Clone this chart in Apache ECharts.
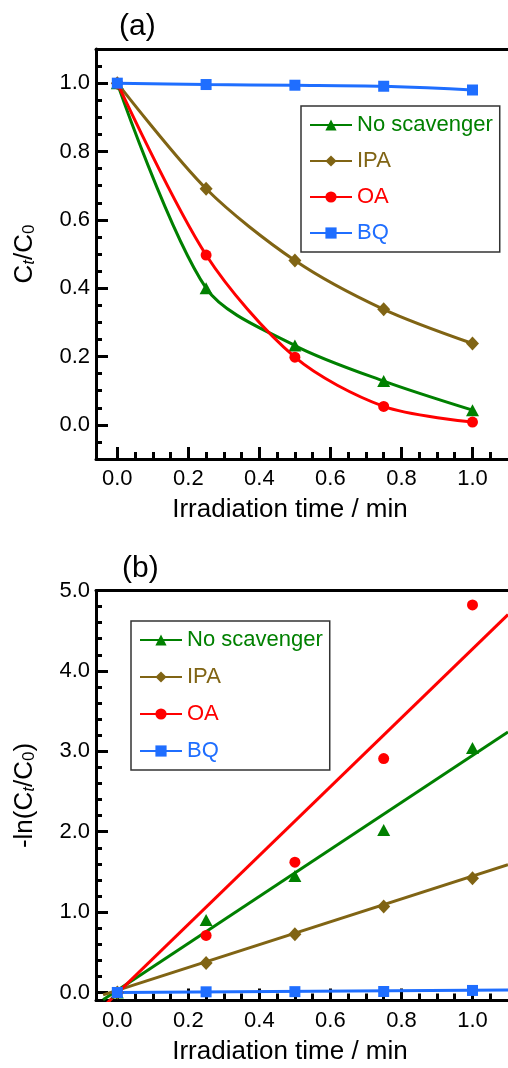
<!DOCTYPE html>
<html>
<head>
<meta charset="utf-8">
<script src="https://cdn.jsdelivr.net/npm/echarts@6/dist/echarts.min.js"></script>
<style>
  html, body { margin: 0; padding: 0; background: #fff; }
  #chart { width: 508px; height: 1068px; }
</style>
</head>
<body>
<div id="chart"></div>
<script>
// irradiation times (min)
const time = [0, 0.25, 0.5, 0.75, 1.0];

// (a) Ct/C0
const ratioNoScav = [1.0, 0.40, 0.232, 0.128, 0.043];
const ratioIPA = [1.0, 0.691, 0.481, 0.338, 0.238];
const ratioOA = [1.0, 0.497, 0.198, 0.054, 0.008];
const ratioBQ = [1.0, 0.996, 0.994, 0.991, 0.980];

// (b) -ln(Ct/C0)
const lnNoScav = [0, 0.90, 1.45, 2.02, 3.04];
const lnIPA = [0, 0.365, 0.725, 1.07, 1.42];
const lnOA = [0, 0.71, 1.62, 2.91, 4.82];
const lnBQ = [0, 0.008, 0.010, 0.012, 0.025];

// (b) linear fit lines, end points
const fitX = [-0.04, 1.1];
const fitNoScav = [-0.09, 3.24];
const fitIPA = [-0.03, 1.59];
const fitOA = [-0.18, 4.70];
const fitXBQ = [0, 1.1];
const fitBQ = [0.0, 0.03];

// tick positions
const xMajor = [0, 0.2, 0.4, 0.6, 0.8, 1.0];
const xMinor = [0.05, 0.1, 0.15, 0.25, 0.3, 0.35, 0.45, 0.5, 0.55, 0.65, 0.7, 0.75, 0.85, 0.9, 0.95, 1.05];
const yMajorA = [0, 0.2, 0.4, 0.6, 0.8, 1.0];
const yMinorA = [-0.05, 0.05, 0.1, 0.15, 0.25, 0.3, 0.35, 0.45, 0.5, 0.55, 0.65, 0.7, 0.75, 0.85, 0.9, 0.95, 1.05];
const yMajorB = [0, 1, 2, 3, 4, 5];
const yMinorB = [0.2, 0.4, 0.6, 0.8, 1.2, 1.4, 1.6, 1.8, 2.2, 2.4, 2.6, 2.8, 3.2, 3.4, 3.6, 3.8, 4.2, 4.4, 4.6, 4.8];

const names = ["No scavenger", "IPA", "OA", "BQ"];
const colors = ["#008000", "#806414", "#ff0000", "#1f6eff"];
const symbols = ["triangle", "diamond", "circle", "rect"];
const symbolSizes = [[13, 12], [13, 14], 11, 11];

const FONT = "'Liberation Sans', Arial, sans-serif";
const pairs = (xs, ys) => xs.map((x, i) => [x, ys[i]]);

const chart = echarts.init(document.getElementById("chart"));

function majorX(gridIndex) {
  return {
    type: "value", gridIndex, position: "bottom", min: -0.06, max: 1.1,
    name: "Irradiation time / min", nameLocation: "middle", nameGap: 38,
    nameTextStyle: { fontFamily: FONT, fontSize: 26, color: "#000", padding: [0, 24, 0, 0] },
    axisLine: { onZero: false, lineStyle: { color: "#000", width: 3 } },
    axisTick: { inside: true, length: 12, lineStyle: { color: "#000", width: 3 }, customValues: xMajor },
    axisLabel: { customValues: xMajor, fontFamily: FONT, fontSize: 22, color: "#000", margin: 9,
      formatter: v => v.toFixed(1) },
    splitLine: { show: false },
  };
}
function minorX(gridIndex) {
  return {
    type: "value", gridIndex, position: "bottom", min: -0.06, max: 1.1,
    axisLine: { show: false, onZero: false },
    axisTick: { inside: true, length: 7, lineStyle: { color: "#000", width: 3 }, customValues: xMinor },
    axisLabel: { show: false },
    splitLine: { show: false },
  };
}
function frameX(gridIndex) {
  return {
    type: "value", gridIndex, position: "top", min: -0.06, max: 1.1,
    axisLine: { onZero: false, lineStyle: { color: "#000", width: 3 } },
    axisTick: { show: false }, axisLabel: { show: false }, splitLine: { show: false },
  };
}
function majorY(gridIndex, min, max, ticks, name, digits) {
  return {
    type: "value", gridIndex, position: "left", min, max,
    name, nameLocation: "middle", nameGap: 58,
    nameTextStyle: {
      fontFamily: FONT, fontSize: 26, color: "#000",
      rich: {
        subi: { fontFamily: FONT, fontSize: 17, fontStyle: "italic", color: "#000", verticalAlign: "bottom" },
        sub: { fontFamily: FONT, fontSize: 17, color: "#000", verticalAlign: "bottom" },
      },
    },
    axisLine: { onZero: false, lineStyle: { color: "#000", width: 3 } },
    axisTick: { inside: true, length: 12, lineStyle: { color: "#000", width: 3 }, customValues: ticks },
    axisLabel: { customValues: ticks, fontFamily: FONT, fontSize: 22, color: "#000", margin: 6,
      formatter: v => v.toFixed(digits) },
    splitLine: { show: false },
  };
}
function minorY(gridIndex, min, max, ticks) {
  return {
    type: "value", gridIndex, position: "left", min, max,
    axisLine: { show: false, onZero: false },
    axisTick: { inside: true, length: 6, lineStyle: { color: "#000", width: 3 }, customValues: ticks },
    axisLabel: { show: false },
    splitLine: { show: false },
  };
}

const seriesA = names.map((n, i) => ({
  name: n, type: "line", xAxisIndex: 0, yAxisIndex: 0,
  data: pairs(time, [ratioNoScav, ratioIPA, ratioOA, ratioBQ][i]),
  smooth: 0.3,
  symbol: symbols[i], symbolSize: symbolSizes[i], showAllSymbol: true,
  itemStyle: { color: colors[i] },
  lineStyle: { color: colors[i], width: 3 },
  z: 2 + i,
}));

const fitsX = [fitX, fitX, fitX, fitXBQ];
const fitsY = [fitNoScav, fitIPA, fitOA, fitBQ];
const lnY = [lnNoScav, lnIPA, lnOA, lnBQ];
const seriesB = [];
names.forEach((n, i) => {
  seriesB.push({
    name: n, type: "line", xAxisIndex: 3, yAxisIndex: 2,
    data: pairs(fitsX[i], fitsY[i]), showSymbol: false,
    symbol: symbols[i], symbolSize: symbolSizes[i],
    itemStyle: { color: colors[i] }, lineStyle: { color: colors[i], width: 3 },
    z: 2 + i,
  });
  seriesB.push({
    name: n, type: "scatter", xAxisIndex: 3, yAxisIndex: 2,
    data: pairs(time, lnY[i]),
    symbol: symbols[i], symbolSize: symbolSizes[i],
    itemStyle: { color: colors[i], opacity: 1 },
    z: 6 + i,
  });
});

function legendAt(left, top, gap) {
  return {
    orient: "vertical", left, top,
    padding: [8, 7, 8, 8], itemGap: gap, itemWidth: 42, itemHeight: 14,
    borderColor: "#333", borderWidth: 1.5, backgroundColor: "#fff",
    lineStyle: { width: 2 },
    selectedMode: false,
    data: names.map((n, i) => ({
      name: n, textStyle: { color: colors[i], fontFamily: FONT, fontSize: 22 },
    })),
  };
}

chart.setOption({
  animation: false,
  title: [
    { text: "(a)", left: 114, top: 7, textStyle: { fontFamily: FONT, fontSize: 30, fontWeight: "normal", color: "#000" } },
    { text: "(b)", left: 117, top: 549, textStyle: { fontFamily: FONT, fontSize: 30, fontWeight: "normal", color: "#000" } },
  ],
  grid: [
    { left: 96, top: 49, width: 415, height: 410 },
    { left: 96, top: 590.5, width: 415, height: 410 },
  ],
  legend: [legendAt(301, 106, 14), legendAt(131, 621, 15)],
  xAxis: [majorX(0), minorX(0), frameX(0), majorX(1), minorX(1), frameX(1)],
  yAxis: [
    majorY(0, -0.1, 1.1, yMajorA, "C{subi|t}/C{sub|0}", 1),
    minorY(0, -0.1, 1.1, yMinorA),
    majorY(1, -0.1, 5.0, yMajorB, "-ln(C{subi|t}/C{sub|0})", 1),
    minorY(1, -0.1, 5.0, yMinorB),
  ],
  series: seriesA.concat(seriesB),
});
</script>
</body>
</html>
